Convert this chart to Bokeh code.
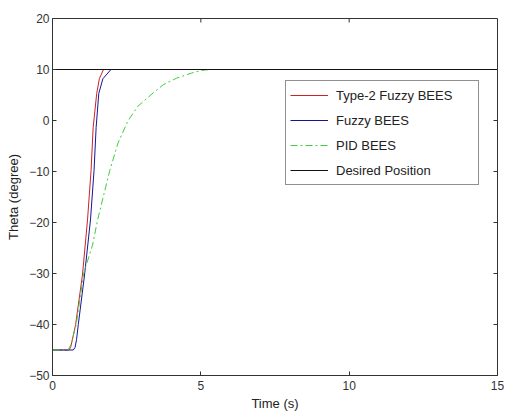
import math
from bokeh.plotting import figure
from bokeh.models import Range1d, FixedTicker, Legend, LegendItem
from bokeh.embed import file_html
from bokeh.resources import INLINE

# --- data ---
t_type2 = [0, 0.55, 0.61, 0.67, 0.78, 1.01, 1.18, 1.30, 1.37, 1.49, 1.58, 1.72, 15]
th_type2 = [-45, -45, -44.5, -43, -40, -30.3, -19.5, -9.8, -1.4, 5.3, 8.2, 10, 10]

t_fuzzy = [0, 0.70, 0.76, 0.81, 0.87, 1.08, 1.28, 1.40, 1.47, 1.56, 1.70, 1.97, 15]
th_fuzzy = [-45, -45, -44.5, -43, -40, -30.3, -19.5, -9.8, -1.4, 5.3, 8.2, 10, 10]

t_pid = [0, 0.52, 0.62, 0.80, 1.05, 1.35, 1.52, 1.93, 2.21, 2.54, 2.88, 3.39, 3.73, 4.18, 4.69, 5.0, 5.3, 15]
th_pid = [-45, -45, -44, -40, -30, -24.4, -19.5, -9.8, -4.4, -0.1, 2.8, 5.4, 7.0, 8.3, 9.3, 9.8, 10, 10]

t_desired = [0, 15]
th_desired = [10, 10]

x_ticks = [0, 5, 10, 15]
y_ticks = [-50, -40, -30, -20, -10, 0, 10, 20]
x_min, x_max = 0, 15
y_min, y_max = -50, 20

FONT = "Liberation Sans"
AXC = "#333333"

p = figure(width=504, height=413, output_backend="svg", toolbar_location=None,
           x_range=Range1d(x_min, x_max), y_range=Range1d(y_min, y_max),
           min_border_left=52, min_border_right=7, min_border_top=18, min_border_bottom=38)
p.grid.visible = False
p.outline_line_color = AXC
p.outline_line_width = 1
p.background_fill_color = "white"
p.border_fill_color = "white"

p.xaxis.ticker = FixedTicker(ticks=x_ticks)
p.yaxis.ticker = FixedTicker(ticks=y_ticks)
for ax in list(p.xaxis) + list(p.yaxis):
    ax.major_tick_in = 4
    ax.major_tick_out = 0
    ax.minor_tick_line_color = None
    ax.axis_line_color = AXC
    ax.major_tick_line_color = AXC
    ax.major_label_text_font = FONT
    ax.major_label_text_font_size = "12px"
    ax.major_label_text_color = AXC
    ax.axis_label_text_font = FONT
    ax.axis_label_text_font_size = "13px"
    ax.axis_label_text_font_style = "normal"
    ax.axis_label_text_color = "#222222"

p.xaxis.axis_label = "Time (s)"
p.xaxis.major_label_standoff = 5
p.xaxis.axis_label_standoff = 3
p.yaxis.axis_label = "Theta (degree)"
p.yaxis.major_label_standoff = 3
p.yaxis.axis_label_standoff = 5

# mirrored inward ticks on the top and right edges of the box (clipped to the frame)
top_x = [v for v in x_ticks if x_min < v < x_max]
right_y = [v for v in y_ticks if y_min < v < y_max]
p.scatter(top_x, [y_max] * len(top_x), marker="dash", size=8, angle=math.pi / 2,
          line_color=AXC, line_width=1)
p.scatter([x_max] * len(right_y), right_y, marker="dash", size=8, angle=0,
          line_color=AXC, line_width=1)

r1 = p.line(t_type2, th_type2, line_color="#cc2222", line_width=1)
r2 = p.line(t_fuzzy, th_fuzzy, line_color="#15159a", line_width=1)
r3 = p.line(t_pid, th_pid, line_color="#3fcc3f", line_width=1, line_dash="7 3 2 3")
r4 = p.line(t_desired, th_desired, line_color="#111111", line_width=1)

legend = Legend(items=[
    LegendItem(label="Type-2 Fuzzy BEES", renderers=[r1]),
    LegendItem(label="Fuzzy BEES", renderers=[r2]),
    LegendItem(label="PID BEES", renderers=[r3]),
    LegendItem(label="Desired Position", renderers=[r4]),
], location=(233, 190))
legend.border_line_color = "#222222"
legend.border_line_width = 1
legend.background_fill_color = "white"
legend.background_fill_alpha = 1
legend.label_text_font = FONT
legend.label_text_font_size = "13px"
legend.label_text_color = "#222222"
legend.glyph_width = 38
legend.glyph_height = 20
legend.label_height = 20
legend.label_width = 138
legend.label_standoff = 8
legend.spacing = 5
legend.padding = 4
legend.margin = 0
p.add_layout(legend, "center")

open("out.html", "w").write(file_html(p, INLINE))
